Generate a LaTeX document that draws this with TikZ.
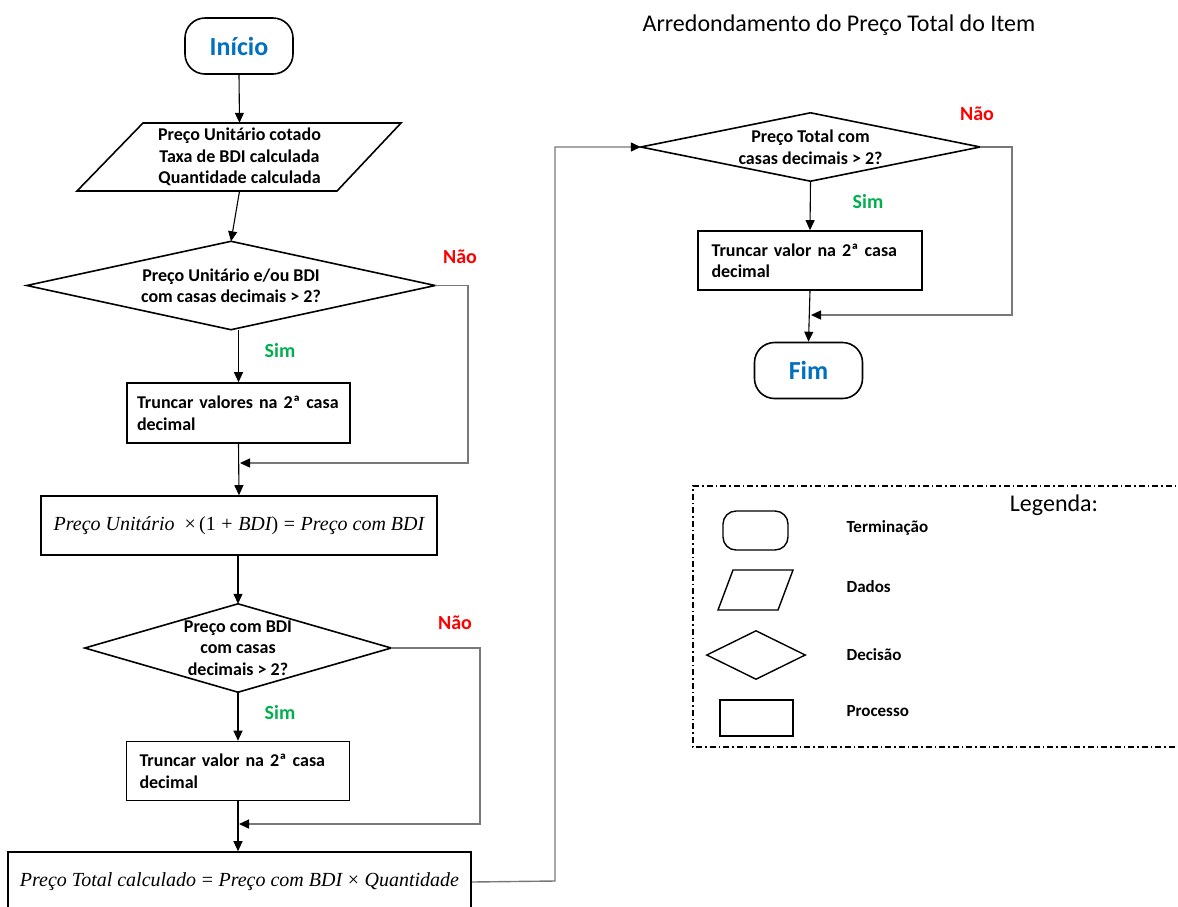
\documentclass[tikz,border=0pt]{standalone}
\usepackage{fontspec}
\setmainfont{Carlito}[Ligatures=NoCommon]
\newfontfamily\eqfont{Liberation Serif}
\usetikzlibrary{arrows.meta,calc}
\definecolor{termblue}{RGB}{0,112,192}
\definecolor{simgreen}{RGB}{0,176,80}
\definecolor{naored}{RGB}{255,0,0}
\definecolor{backgray}{RGB}{120,120,120}
\newcommand{\eqi}[1]{{\itshape #1}}
\begin{document}
\begin{tikzpicture}[x=1pt,y=-1pt,
  shapeline/.style={line width=1.6pt},
  termbox/.style={draw,shapeline,rounded corners=20pt,minimum width=108pt,minimum height=56pt,inner sep=0pt,
    font=\fontsize{26}{30}\selectfont\bfseries,text=termblue},
  procbox/.style={draw,shapeline,inner sep=0pt},
  anchbox/.style={rectangle,inner sep=0pt},
  btext/.style={font=\fontsize{18}{21.5}\selectfont\bfseries,align=center},
  ptext/.style={font=\fontsize{18}{21.5}\selectfont\bfseries,align=left},
  eqtext/.style={font=\eqfont\fontsize{20}{23}\selectfont},
  flowarrow/.style={line width=1.1pt,-{Triangle[length=10pt,width=9pt]}},
  backline/.style={line width=1.4pt,draw=backgray,-{Triangle[length=10pt,width=9pt,color=black]}},
  simlbl/.style={font=\fontsize{20}{22}\selectfont\bfseries,text=simgreen},
  naolbl/.style={font=\fontsize{20}{22}\selectfont\bfseries,text=naored},
  leglbl/.style={font=\fontsize{17}{20}\selectfont\bfseries,anchor=west},
  bigtext/.style={font=\fontsize{24}{28}\selectfont},
]
\fill[white] (0,0) rectangle (1178,906);
\useasboundingbox (0,0) rectangle (1178,906);

% ---------- left column ----------
\node[termbox] (ini) at (239,46) {Início};

\node[anchbox,btext,minimum width=258pt,minimum height=68pt] (par) at (239.5,157)
  {Preço Unitário cotado\\Taxa de BDI calculada\\Quantidade calculada};
\draw[shapeline] (143,123) -- (401,123) -- (337,191) -- (77,191) -- cycle;

\node[anchbox,btext,minimum width=408pt,minimum height=88pt] (d1) at (231,285.5)
  {Preço Unitário e/ou BDI\\com casas decimais > 2?};
\draw[shapeline] (d1.west) -- (d1.north) -- (d1.east) -- (d1.south) -- cycle;

\node[procbox,ptext,minimum width=223pt,minimum height=60pt,text width=203pt] (r1) at (238.5,413)
  {Truncar valores na 2ª casa\\decimal};

\node[procbox,eqtext,minimum width=396pt,minimum height=59pt] (r2) at (239,525.5)
  {\eqi{Preço Unitário}\ \ ×\,(1\;+\;\eqi{BDI})\;=\;\eqi{Preço com BDI}};

\node[anchbox,btext,minimum width=306pt,minimum height=88pt] (d2) at (238,648)
  {Preço com BDI\\com casas\\decimais > 2?};
\draw[shapeline] (d2.west) -- (d2.north) -- (d2.east) -- (d2.south) -- cycle;

\node[procbox,ptext,minimum width=223pt,minimum height=59pt,text width=197pt] (r3) at (238,771)
  {\makebox[197pt][s]{Truncar valor na 2ª casa}\\decimal};

\node[procbox,eqtext,minimum width=463pt,minimum height=60pt] (r4) at (239.5,882)
  {\eqi{Preço Total calculado}\;=\;\eqi{Preço com BDI}\;×\;\eqi{Quantidade}};

\coordinate (m1) at (240,463);
\coordinate (c1) at (468,463);
\coordinate (m2) at (239,824);
\coordinate (c2) at (480,824);
\coordinate (c3) at (555,881);

\node[simlbl] (sim1) at (280,351) {Sim};
\node[naolbl] (nao1) at (460,257) {Não};
\node[simlbl] (sim2) at (280,713) {Sim};
\node[naolbl] (nao2) at (455,623) {Não};

\draw[flowarrow] (ini.south) -- (par.north);
\draw[flowarrow] (par.south) -- (d1.north);
\draw[flowarrow] (d1.south -| r1.north) -- (r1.north);
\draw[flowarrow] (r1.south) -- (r2.north);
\draw[backline] (d1.east) -| (c1) -- (m1);
\draw[flowarrow] (r2.south -| d2.north) -- (d2.north);
\draw[flowarrow] (d2.south) -- (d2.south |- r3.north);
\draw[flowarrow] (r3.south) -- (r3.south |- r4.north);
\draw[backline] (d2.east) -| (c2) -- (m2);

% ---------- right column ----------
\node[bigtext] (title) at (839,25) {Arredondamento do Preço Total do Item};

\node[anchbox,btext,minimum width=339pt,minimum height=68pt] (d3) at (810.5,147)
  {Preço Total com\\casas decimais > 2?};
\draw[shapeline] (d3.west) -- (d3.north) -- (d3.east) -- (d3.south) -- cycle;

\node[procbox,ptext,minimum width=224pt,minimum height=59pt,text width=197pt] (r6) at (810,260.5)
  {\makebox[197pt][s]{Truncar valor na 2ª casa}\\decimal};

\node[termbox] (fim) at (808.5,370.5) {Fim};

\coordinate (m3) at (811,315);
\coordinate (c4) at (1012,315);

\node[simlbl] (sim3) at (868,202) {Sim};
\node[naolbl] (nao3) at (977,114) {Não};

\draw[line width=1.4pt,draw=backgray,-{Triangle[length=10pt,width=9pt,color=black]}] (r4.east) -- (c3) |- (d3.west);
\draw[flowarrow] (d3.south) -- (r6.north);
\draw[flowarrow] (r6.south) -- (fim.north);
\draw[backline] (d3.east) -| (c4) -- (m3);

% ---------- legend ----------
\draw[line width=1.3pt,dash pattern=on 6pt off 3pt on 1.5pt off 3pt] (1185,486) -- (693,486) -- (693,747) -- (1185,747);
\node[bigtext] (leg) at (1054,505) {Legenda:};

\node[draw,line width=1.4pt,rounded corners=13pt,minimum width=65pt,minimum height=39pt,inner sep=0pt] (lterm) at (755.5,530.5) {};
\draw[line width=1.4pt] (733,570) -- (793,570) -- (778,610) -- (718,610) -- cycle;
\node[anchbox,minimum width=98pt,minimum height=48pt] (ldec) at (756,655) {};
\draw[line width=1.4pt] (ldec.west) -- (ldec.north) -- (ldec.east) -- (ldec.south) -- cycle;
\node[draw,line width=1.4pt,minimum width=73pt,minimum height=36pt,inner sep=0pt] (lproc) at (756.5,718) {};

\node[leglbl] (lt1) at (843,528) {Terminação};
\node[leglbl] (lt2) at (843,587) {Dados};
\node[leglbl] (lt3) at (843,655) {Decisão};
\node[leglbl] (lt4) at (843,711) {Processo};
\end{tikzpicture}
\end{document}
